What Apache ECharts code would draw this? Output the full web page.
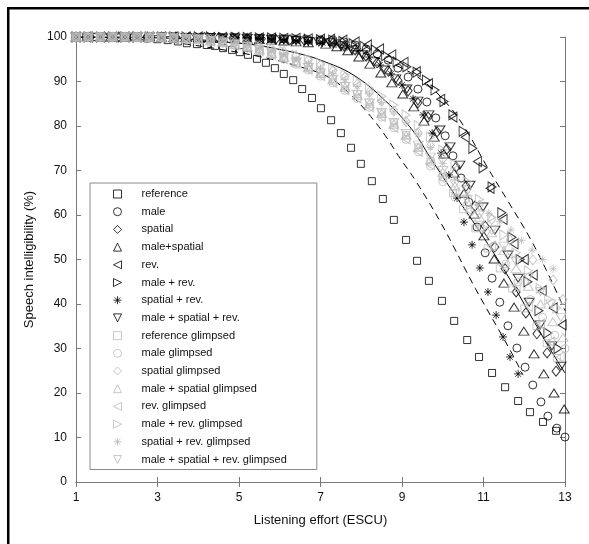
<!DOCTYPE html>
<html lang="en">
<head>
  <meta charset="UTF-8">
  <title>Speech intelligibility vs listening effort</title>
  <style>
    html, body { margin: 0; padding: 0; background: #fff; }
    #main { width: 589px; height: 544px; }
  </style>
</head>
<body>
  <div id="main"></div>
  <script src="https://cdn.jsdelivr.net/npm/echarts@6/dist/echarts.min.js"></script>
  <script>
    // 数据 [x (ESCU), y (%)]
    var reference = [[1,100],[1.25,100],[1.5,100],[1.75,99.9],[2,99.9],[2.25,99.9],[2.5,99.8],[2.75,99.7],[3,99.5],[3.25,99.3],[3.5,99],[3.72,98.6],[3.97,98.4],[4.21,98.2],[4.41,98],[4.61,97.5],[4.83,97.1],[5.02,96.6],[5.22,96],[5.44,95.1],[5.66,94.2],[5.88,93],[6.1,91.7],[6.33,90.3],[6.55,88.3],[6.79,86.3],[7.01,84],[7.26,81.3],[7.5,78.4],[7.75,75.1],[7.99,71.5],[8.26,67.6],[8.53,63.6],[8.8,58.9],[9.1,54.4],[9.37,49.7],[9.66,45.2],[9.98,40.7],[10.28,36.2],[10.6,31.9],[10.89,28.1],[11.21,24.5],[11.53,21.3],[11.85,18.2],[12.14,15.7],[12.46,13.5],[12.78,11.5]];
    var male = [[1,100],[1.3,100],[1.6,100],[1.9,100],[2.2,100],[2.5,100],[2.8,100],[3.1,100],[3.4,100],[3.7,99.9],[4,99.9],[4.3,99.9],[4.6,99.8],[4.9,99.8],[5.2,99.7],[5.5,99.7],[5.8,99.6],[6.1,99.6],[6.4,99.5],[6.7,99.4],[7,99.35],[7.31,99.3],[7.58,98.9],[7.85,98.2],[8.12,97.3],[8.39,96.2],[8.66,94.8],[8.9,93],[9.15,91],[9.39,88.3],[9.61,85.4],[9.83,81.8],[10.06,77.8],[10.25,73.3],[10.45,68.3],[10.64,62.9],[10.84,57.3],[11.04,51.5],[11.21,45.8],[11.4,40.4],[11.6,35.1],[11.82,30.1],[12.02,25.8],[12.21,21.8],[12.41,18],[12.58,14.8],[12.8,12.1],[13,10.1]];
    var spatial = [[1,100],[1.35,100],[1.7,100],[2.05,100],[2.4,100],[2.75,100],[3.1,100],[3.45,100],[3.8,99.9],[4.15,99.9],[4.5,99.8],[4.85,99.8],[5.2,99.7],[5.55,99.6],[5.9,99.5],[6.25,99.4],[6.6,99.3],[7.04,99.1],[7.31,98.7],[7.58,98],[7.85,97.1],[8.12,95.7],[8.39,94.2],[8.66,92.4],[8.9,90.3],[9.15,87.9],[9.39,85.2],[9.64,82],[9.86,78.7],[10.1,74.8],[10.33,70.8],[10.57,66.5],[10.79,62],[11.04,57.5],[11.28,52.8],[11.53,47.9],[11.8,42.7],[12.04,38],[12.31,33.3],[12.56,29],[12.78,24.9]];
    var maleSpatial = [[1,100],[1.3,100],[1.6,100],[1.9,100],[2.2,100],[2.5,100],[2.8,100],[3.1,99.9],[3.4,99.9],[3.7,99.9],[4,99.8],[4.3,99.8],[4.6,99.7],[4.9,99.6],[5.2,99.5],[5.5,99.4],[5.8,99.3],[6.1,99.1],[6.4,98.9],[6.7,98.7],[7.13,98.4],[7.4,97.8],[7.67,96.9],[7.94,95.5],[8.21,93.9],[8.48,91.9],[8.75,89.7],[9.02,87.2],[9.29,84.3],[9.54,81.1],[9.79,77.5],[10.03,73.7],[10.28,69.4],[10.52,64.9],[10.77,60.2],[11.01,55.3],[11.26,50.1],[11.5,44.7],[11.75,39.3],[11.99,33.9],[12.24,28.8],[12.48,24.3],[12.73,20],[12.98,16.4]];
    var rev = [[1,100],[1.3,100],[1.6,100],[1.9,100],[2.2,100],[2.5,100],[2.8,100],[3.1,100],[3.4,100],[3.7,100],[4,100],[4.3,99.9],[4.6,99.9],[4.9,99.9],[5.2,99.9],[5.5,99.8],[5.8,99.8],[6.1,99.7],[6.4,99.7],[6.7,99.6],[7,99.5],[7.25,99.5],[7.55,99.3],[7.85,98.9],[8.15,98.2],[8.45,97.3],[8.75,96],[9.05,94.3],[9.35,92.2],[9.65,89.5],[9.95,86],[10.25,82],[10.55,77.5],[10.85,72],[11.16,66],[11.48,59],[11.75,53.5],[12,50],[12.22,46.5],[12.44,43],[12.71,39.1],[12.93,35.3]];
    var maleRev = [[1,100],[1.3,100],[1.6,100],[1.9,100],[2.2,100],[2.5,100],[2.8,100],[3.1,100],[3.4,100],[3.7,100],[4,100],[4.3,100],[4.6,99.9],[4.9,99.9],[5.2,99.9],[5.5,99.8],[5.8,99.8],[6.1,99.7],[6.4,99.6],[6.7,99.5],[7,99.4],[7.3,99.3],[7.55,99],[7.8,98.5],[8.07,97.9],[8.34,97.1],[8.6,95.8],[8.88,94.4],[9.12,93.3],[9.37,92.1],[9.6,90.3],[9.81,88.1],[10.03,85.5],[10.25,82.5],[10.5,78.8],[10.74,75],[10.99,70.6],[11.21,66.3],[11.45,60.5],[11.7,55],[11.9,50],[12.09,45],[12.36,38.5],[12.58,33.5],[12.83,30]];
    var spatialRev = [[1,100],[1.3,100],[1.6,100],[1.9,100],[2.2,100],[2.5,100],[2.8,100],[3.1,100],[3.4,99.9],[3.7,99.9],[4,99.9],[4.3,99.8],[4.6,99.8],[4.9,99.7],[5.2,99.6],[5.5,99.5],[5.8,99.4],[6.1,99.3],[6.4,99.1],[6.7,98.9],[7.05,98.7],[7.38,98.4],[7.65,97.8],[7.92,96.9],[8.19,95.5],[8.46,93.7],[8.73,91.7],[9,89.2],[9.27,86.1],[9.52,82.5],[9.74,78.4],[9.96,73.9],[10.15,69],[10.35,63.8],[10.52,58.4],[10.72,53.3],[10.91,48.1],[11.11,42.7],[11.31,37.5],[11.48,32.6],[11.65,28.1],[11.85,24.3]];
    var maleSpatialRev = [[1,100],[1.3,100],[1.6,100],[1.9,100],[2.2,100],[2.5,100],[2.8,100],[3.1,100],[3.4,100],[3.7,99.9],[4,99.9],[4.3,99.9],[4.6,99.8],[4.9,99.8],[5.2,99.7],[5.5,99.6],[5.8,99.5],[6.1,99.4],[6.4,99.2],[6.7,99],[6.96,98.9],[7.23,98.7],[7.5,98],[7.77,97.1],[8.04,96],[8.31,94.4],[8.58,92.6],[8.85,90.6],[9.12,88.3],[9.39,85.6],[9.66,82.5],[9.93,79.1],[10.18,75.3],[10.42,71.2],[10.67,66.7],[10.99,61.8],[11.28,56.6],[11.6,51],[11.85,45.8],[12.12,40.4],[12.39,35.3],[12.68,30.6],[12.9,26]];

    var referenceG = [[1,100],[1.3,100],[1.6,100],[1.9,100],[2.2,100],[2.5,100],[2.8,99.9],[3.1,99.9],[3.4,99.8],[3.7,99.7],[4,99.5],[4.3,99.2],[4.6,98.9],[4.9,98.5],[5.2,98],[5.5,97.3],[5.8,96.5],[6.1,95.6],[6.4,94.5],[6.7,93.3],[7,92],[7.3,90.5],[7.6,89],[7.9,87.2],[8.2,85.3],[8.5,83],[8.8,80.6],[9.1,78],[9.4,75.2],[9.7,72],[10,68.5],[10.25,65],[10.5,61.3],[10.8,57],[11.1,52.5],[11.4,48],[11.7,43.5],[12,39],[12.3,35],[12.55,31.2],[12.8,27.9]];
    var maleG = [[1,100],[1.3,100],[1.6,100],[1.9,100],[2.2,100],[2.5,99.9],[2.8,99.9],[3.1,99.8],[3.4,99.7],[3.7,99.5],[4,99.3],[4.3,99],[4.6,98.6],[4.9,98.1],[5.2,97.5],[5.5,96.8],[5.8,96],[6.1,95],[6.4,93.9],[6.7,92.6],[7,91.2],[7.3,89.7],[7.6,88],[7.9,86.2],[8.2,84.2],[8.5,82],[8.8,79.6],[9.1,77],[9.4,74.2],[9.7,71],[10,67.5],[10.3,64],[10.67,60.7],[10.95,57],[11.25,53],[11.55,49],[11.85,45],[12.15,41],[12.45,37],[12.75,33],[13,30]];
    var spatialG = [[1,100],[1.3,100],[1.6,100],[1.9,100],[2.2,100],[2.5,100],[2.8,100],[3.1,99.9],[3.4,99.9],[3.7,99.8],[4,99.7],[4.3,99.5],[4.6,99.2],[4.9,98.9],[5.2,98.5],[5.5,98],[5.8,97.4],[6.1,96.7],[6.4,95.8],[6.7,94.8],[7,93.7],[7.3,92.4],[7.6,91],[7.9,89.4],[8.2,87.6],[8.5,85.6],[8.8,83.4],[9.1,81],[9.4,78.4],[9.7,75.6],[10,72.6],[10.3,69.3],[10.6,65.8],[10.9,62.2],[11.2,59],[11.65,54.4],[12.21,49.9],[12.71,45.4],[12.95,41]];
    var maleSpatialG = [[1,100],[1.3,100],[1.6,100],[1.9,100],[2.2,100],[2.5,99.9],[2.8,99.9],[3.1,99.8],[3.4,99.7],[3.7,99.6],[4,99.4],[4.3,99.1],[4.6,98.8],[4.9,98.3],[5.2,97.8],[5.5,97.1],[5.8,96.3],[6.1,95.4],[6.4,94.3],[6.7,93.1],[7,91.8],[7.3,90.3],[7.6,88.7],[7.9,86.9],[8.2,85],[8.5,82.8],[8.8,80.4],[9.1,77.9],[9.4,75.2],[9.7,72.4],[10,69.6],[10.3,66.5],[10.6,63],[10.9,59.5],[11.2,56],[11.5,52],[11.8,48],[12.1,44],[12.4,40],[12.7,36],[12.95,32.5]];
    var revG = [[1,100],[1.3,100],[1.6,100],[1.9,100],[2.2,100],[2.5,100],[2.8,100],[3.1,99.9],[3.4,99.8],[3.7,99.6],[4,99.4],[4.3,99.1],[4.6,98.7],[4.9,98.2],[5.2,97.6],[5.5,96.9],[5.8,96.1],[6.1,95.1],[6.4,94],[6.7,92.7],[7,91.3],[7.3,89.8],[7.6,88.1],[7.9,86.3],[8.2,84.3],[8.5,82.1],[8.8,79.7],[9.1,77.1],[9.4,74.3],[9.7,71.3],[10,68.2],[10.3,65],[10.6,61.3],[10.9,57.3],[11.2,53],[11.5,48.5],[11.8,44],[12.1,39.5],[12.4,35.5],[12.65,31.5],[12.88,28.1]];
    var maleRevG = [[1,100],[1.3,100],[1.6,100],[1.9,100],[2.2,100],[2.5,100],[2.8,100],[3.1,100],[3.4,99.9],[3.7,99.8],[4,99.7],[4.3,99.5],[4.6,99.2],[4.9,98.9],[5.2,98.5],[5.5,98],[5.8,97.4],[6.1,96.7],[6.4,95.9],[6.7,95],[7,94],[7.3,92.8],[7.6,91.5],[7.9,90.1],[8.2,88.5],[8.5,86.7],[8.8,84.7],[9.1,82.5],[9.4,80.1],[9.7,77.5],[10,74.6],[10.3,71.3],[10.6,67.5],[10.9,63.5],[11.2,59.5],[11.5,55.5],[11.8,51.5],[12.1,47.5],[12.39,43.5],[12.6,41],[12.8,39.1]];
    var spatialRevG = [[1,100],[1.3,100],[1.6,100],[1.9,100],[2.2,100],[2.5,100],[2.8,100],[3.1,100],[3.4,99.9],[3.7,99.8],[4,99.6],[4.3,99.3],[4.6,99],[4.9,98.6],[5.2,98.1],[5.5,97.5],[5.8,96.8],[6.1,96],[6.4,95.1],[6.7,94.1],[7,93],[7.3,91.8],[7.6,90.4],[7.9,88.9],[8.2,87.2],[8.5,85.3],[8.8,83.2],[9.1,80.8],[9.4,78.2],[9.7,75.2],[10,71.6],[10.3,68],[10.6,64.5],[10.87,62.2],[11.13,60.4],[11.4,58.5],[11.67,56.6],[11.93,54.3],[12.19,52.1],[12.45,50],[12.71,47.9]];
    var maleSpatialRevG = [[1,100],[1.3,100],[1.6,100],[1.9,100],[2.2,100],[2.5,100],[2.8,100],[3.1,99.9],[3.4,99.8],[3.7,99.7],[4,99.5],[4.3,99.2],[4.6,98.9],[4.9,98.4],[5.2,97.9],[5.5,97.2],[5.8,96.4],[6.1,95.5],[6.4,94.4],[6.7,93.2],[7,91.9],[7.3,90.5],[7.6,88.9],[7.9,87.1],[8.2,85.2],[8.5,83.1],[8.8,80.8],[9.1,78.3],[9.4,75.7],[9.7,73],[10,70],[10.3,67],[10.6,63.5],[10.9,60],[11.2,56.5],[11.5,53],[11.8,49.5],[12.1,46],[12.4,42.8],[12.65,40],[12.9,37]];

    // 拟合曲线
    var fitMid = [[1,100],[2,100],[3,99.8],[4,99.4],[5,98.6],[5.4,98.2],[6,97.2],[6.5,96.2],[7,94.8],[7.8,91.5],[8.6,85.6],[9.27,78.9],[9.7,72.8],[10.3,64.5],[11,55],[11.65,45.5],[12.56,31],[13,24.5]];
    var fitLow = [[1,100],[2,99.8],[3,99.2],[3.55,98.6],[4.5,97.3],[5.5,95.6],[6.5,93.3],[7.23,90.8],[7.8,86.5],[8.29,81.5],[8.63,77.3],[8.95,72.8],[9.32,67.9],[9.98,57.8],[10.8,43.5],[11.65,29.7],[11.97,24]];
    var fitHigh = [[1,100],[4,100],[6,99.5],[7,98.5],[8,96.5],[9,93],[9.6,89.5],[10.2,84],[10.62,78.4],[11.09,70.8],[11.58,63.4],[12.14,54.8],[12.6,46.5],[13,38.5]];

    var FONT = '"Liberation Sans", Arial, Helvetica, sans-serif';
    var GRAY = '#bababa';
    var STAR = 'path://M5,0 L5,10 M0,5 L10,5 M1.5,1.5 L8.5,8.5 M1.5,8.5 L8.5,1.5';
    var TRI_UP = 'path://M5,0 L10,10 L0,10 Z';
    var TRI_DOWN = 'path://M0,0 L10,0 L5,10 Z';
    var TRI_LEFT = 'path://M0,5 L10,0 L10,10 Z';
    var TRI_RIGHT = 'path://M10,5 L0,0 L0,10 Z';

    // 系列定义：名称, 数据, 符号, 尺寸, 颜色
    var seriesDefs = [
      ['reference', reference, 'rect', 7, '#000'],
      ['male', male, 'circle', 8, '#000'],
      ['spatial', spatial, 'diamond', [8, 10], '#000'],
      ['male+spatial', maleSpatial, TRI_UP, [10, 8], '#000'],
      ['rev.', rev, TRI_LEFT, [8, 10], '#000'],
      ['male + rev.', maleRev, TRI_RIGHT, [8, 10], '#000'],
      ['spatial + rev.', spatialRev, STAR, 8, '#000'],
      ['male + spatial + rev.', maleSpatialRev, TRI_DOWN, [10, 8], '#000'],
      ['reference glimpsed', referenceG, 'rect', 7, GRAY],
      ['male glimpsed', maleG, 'circle', 8, GRAY],
      ['spatial glimpsed', spatialG, 'diamond', [8, 10], GRAY],
      ['male + spatial glimpsed', maleSpatialG, TRI_UP, [10, 8], GRAY],
      ['rev. glimpsed', revG, TRI_LEFT, [8, 10], GRAY],
      ['male + rev. glimpsed', maleRevG, TRI_RIGHT, [8, 10], GRAY],
      ['spatial + rev. glimpsed', spatialRevG, STAR, 8, GRAY],
      ['male + spatial + rev. glimpsed', maleSpatialRevG, TRI_DOWN, [10, 8], GRAY]
    ];

    var series = [];
    // 先画曲线
    [[fitMid, 'solid'], [fitLow, [7, 5]], [fitHigh, [7, 5]]].forEach(function (f) {
      series.push({
        type: 'line',
        data: f[0],
        smooth: 0.4,
        showSymbol: false,
        silent: true,
        lineStyle: { color: '#000', width: 1, type: f[1] },
        z: 1
      });
    });
    seriesDefs.forEach(function (d) {
      series.push({
        name: d[0],
        type: 'scatter',
        data: d[1],
        symbol: d[2],
        symbolSize: d[3],
        itemStyle: { color: 'transparent', borderColor: d[4], borderWidth: 1 },
        z: 2
      });
    });

    var axisLineColor = '#7a7a7a';
    var myChart = echarts.init(document.getElementById('main'));
    myChart.setOption({
      animation: false,
      backgroundColor: '#fff',
      textStyle: { fontFamily: FONT },
      grid: { left: 76, right: 24, top: 37, bottom: 62 },
      legend: {
        orient: 'vertical',
        left: 90,
        top: 183,
        data: seriesDefs.map(function (d) {
          return { name: d[0], icon: d[2] };
        }),
        itemWidth: 8,
        itemHeight: 8,
        itemGap: 3.7,
        itemStyle: { borderWidth: 1 },
        padding: [4, 30, 3, 23],
        backgroundColor: '#fff',
        borderColor: '#8a8a8a',
        borderWidth: 1,
        borderRadius: 0,
        selectedMode: false,
        textStyle: { fontFamily: FONT, fontSize: 11, color: '#111', lineHeight: 14, padding: [0, 0, 0, 15] }
      },
      xAxis: [{
        type: 'value', min: 1, max: 13, interval: 2,
        name: 'Listening effort (ESCU)', nameLocation: 'middle', nameGap: 32,
        nameTextStyle: { fontFamily: FONT, fontSize: 13, color: '#111' },
        axisLine: { lineStyle: { color: axisLineColor } },
        axisTick: { inside: true, length: 5, lineStyle: { color: axisLineColor } },
        axisLabel: { fontFamily: FONT, fontSize: 12, color: '#111', margin: 10 },
        splitLine: { show: false }
      }, {
        type: 'value', min: 1, max: 13, interval: 2, position: 'top',
        axisLine: { show: true, lineStyle: { color: axisLineColor } },
        axisTick: { inside: true, length: 5, lineStyle: { color: axisLineColor } },
        axisLabel: { show: false },
        splitLine: { show: false }
      }],
      yAxis: [{
        type: 'value', min: 0, max: 100, interval: 10,
        name: 'Speech intelligibility (%)', nameLocation: 'middle', nameGap: 33,
        nameTextStyle: { fontFamily: FONT, fontSize: 13, color: '#111' },
        axisLine: { show: true, lineStyle: { color: axisLineColor } },
        axisTick: { show: true, inside: true, length: 5, lineStyle: { color: axisLineColor } },
        axisLabel: { fontFamily: FONT, fontSize: 12, color: '#111', margin: 9 },
        splitLine: { show: false }
      }, {
        type: 'value', min: 0, max: 100, interval: 10, position: 'right',
        axisLine: { show: true, lineStyle: { color: axisLineColor } },
        axisTick: { show: true, inside: true, length: 5, lineStyle: { color: axisLineColor } },
        axisLabel: { show: false },
        splitLine: { show: false }
      }],
      graphic: [
        { type: 'rect', left: 7, top: 7, shape: { width: 582, height: 2.5 }, style: { fill: '#000' }, silent: true },
        { type: 'rect', left: 7, top: 7, shape: { width: 2.5, height: 537 }, style: { fill: '#000' }, silent: true }
      ],
      series: series
    });
  </script>
</body>
</html>
